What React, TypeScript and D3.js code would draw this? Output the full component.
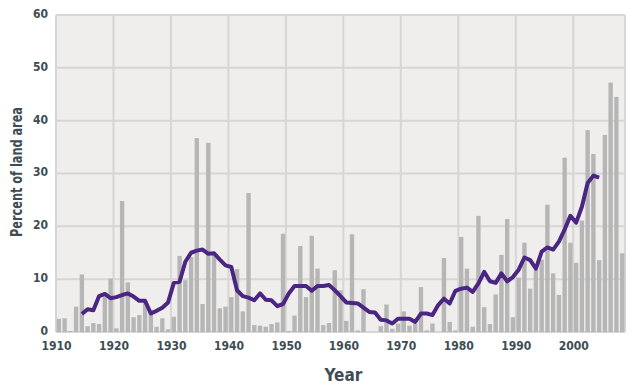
import { useEffect, useRef } from 'react';
import * as d3 from 'd3';

// annual values, 1910 .. 2008
const firstYear = 1910;
const annual = [
  2.5, 2.6, 0.2, 4.8, 10.9, 1.1, 1.7, 1.5, 7.0, 10.1,
  0.7, 24.8, 9.4, 2.8, 3.2, 6.0, 4.2, 1.0, 2.6, 0.5,
  2.9, 14.4, 9.8, 14.2, 36.7, 5.3, 35.8, 14.6, 4.5, 4.8,
  6.6, 11.9, 3.9, 26.3, 1.3, 1.2, 1.0, 1.5, 1.8, 18.6,
  0.2, 3.1, 16.3, 6.6, 18.2, 12.0, 1.3, 1.7, 11.7, 7.9,
  2.1, 18.5, 0.3, 8.1, 0, 0, 1.1, 5.2, 0.6, 1.6,
  3.9, 1.2, 1.5, 8.5, 0.3, 1.6, 0, 14.0, 1.9, 0.3,
  18.0, 12.0, 1.0, 22.0, 4.7, 1.5, 7.1, 14.6, 21.4, 2.8,
  10.3, 16.9, 8.2, 11.8, 13.7, 24.1, 11.1, 7.0, 33.0, 16.9,
  13.1, 21.1, 38.2, 33.7, 13.6, 37.3, 47.2, 44.5, 14.9,
];

// smoothed line, 1914 .. 2004
const avgStart = 1914;
const smoothed = [
  3.4, 4.3, 4.1, 6.8, 7.2, 6.4, 6.6, 7.0, 7.3, 6.7,
  5.9, 5.9, 3.5, 4.0, 4.6, 5.6, 9.3, 9.5, 13.3, 15.0,
  15.4, 15.6, 14.8, 14.9, 13.7, 12.6, 12.3, 7.9, 6.8, 6.5,
  6.0, 7.3, 6.1, 6.0, 4.9, 5.3, 7.3, 8.7, 8.7, 8.7,
  7.8, 8.7, 8.7, 8.9, 7.9, 6.8, 5.6, 5.5, 5.4, 4.6,
  3.8, 3.7, 2.3, 2.2, 1.6, 2.5, 2.5, 2.5, 1.9, 3.5,
  3.5, 3.2, 5.1, 6.3, 5.4, 7.8, 8.2, 8.4, 7.6, 9.2,
  11.4, 9.6, 9.3, 11.1, 9.6, 10.4, 11.8, 14.1, 13.6, 12.0,
  15.2, 16.0, 15.6, 17.1, 19.4, 22.0, 20.7, 23.7, 28.2, 29.6,
  29.2,
];

const xTicks = [1910, 1920, 1930, 1940, 1950, 1960, 1970, 1980, 1990, 2000];
const yTicks = [0, 10, 20, 30, 40, 50, 60];

const font = "'DejaVu Sans Condensed', 'DejaVu Sans', sans-serif";
const textColor = '#3d4d53';

const DroughtChart = () => {
  const ref = useRef<SVGSVGElement | null>(null);

  useEffect(() => {
    if (!ref.current) return;
    const svg = d3.select(ref.current);
    svg.selectAll('*').remove();
    const width = 640;
    const height = 390;
    const margin = { top: 15, right: 15, bottom: 58, left: 56 };

    const x = d3
      .scaleLinear()
      .domain([firstYear, firstYear + annual.length])
      .range([margin.left, width - margin.right]);
    const y = d3
      .scaleLinear()
      .domain([0, 60])
      .range([height - margin.bottom, margin.top]);

    const bw = x(1) - x(0);

    svg
      .append('rect')
      .attr('x', margin.left)
      .attr('y', margin.top)
      .attr('width', width - margin.left - margin.right)
      .attr('height', height - margin.top - margin.bottom)
      .attr('fill', '#efeeec');

    const grid = svg.append('g').attr('stroke', '#d6d6d6').attr('stroke-width', 2);
    grid
      .selectAll('line.v')
      .data(xTicks)
      .join('line')
      .attr('class', 'v')
      .attr('x1', (d) => x(d))
      .attr('x2', (d) => x(d))
      .attr('y1', margin.top)
      .attr('y2', height - margin.bottom);
    grid
      .selectAll('line.h')
      .data(yTicks)
      .join('line')
      .attr('class', 'h')
      .attr('x1', margin.left)
      .attr('x2', width - margin.right)
      .attr('y1', (d) => y(d))
      .attr('y2', (d) => y(d));
    grid
      .append('line')
      .attr('x1', width - margin.right)
      .attr('x2', width - margin.right)
      .attr('y1', margin.top)
      .attr('y2', height - margin.bottom);

    svg
      .append('g')
      .selectAll('rect')
      .data(annual)
      .join('rect')
      .attr('x', (_, i) => x(firstYear + i) + bw * 0.12)
      .attr('width', bw * 0.76)
      .attr('y', (d) => y(d))
      .attr('height', (d) => y(0) - y(d))
      .attr('fill', '#b6b6b6');

    const line = d3
      .line<number>()
      .x((_, i) => x(avgStart + i + 0.5))
      .y((d) => y(d));

    svg
      .append('path')
      .datum(smoothed)
      .attr('fill', 'none')
      .attr('stroke', '#4a2682')
      .attr('stroke-width', 4)
      .attr('stroke-linejoin', 'round')
      .attr('d', line);

    const yAxis = svg
      .append('g')
      .attr('transform', `translate(${margin.left},0)`)
      .call(d3.axisLeft(y).tickValues(yTicks).tickSize(0).tickPadding(8));
    const xAxis = svg
      .append('g')
      .attr('transform', `translate(0,${height - margin.bottom})`)
      .call(d3.axisBottom(x).tickValues(xTicks).tickFormat(d3.format('d')).tickSize(0).tickPadding(9));
    [yAxis, xAxis].forEach((g) => {
      g.select('.domain').remove();
      g.selectAll('text')
        .attr('fill', textColor)
        .style('font-family', font)
        .style('font-stretch', 'condensed')
        .style('font-weight', 'bold')
        .style('font-size', '12px');
    });
    yAxis.selectAll('text').attr('dy', '0.2em');

    svg
      .append('text')
      .attr('x', (margin.left + width - margin.right) / 2 + 3)
      .attr('y', 381)
      .attr('text-anchor', 'middle')
      .attr('fill', textColor)
      .style('font-family', font)
      .style('font-stretch', 'condensed')
      .style('font-weight', 'bold')
      .style('font-size', '17px')
      .text('Year');

    svg
      .append('text')
      .attr('transform', `translate(22,172) rotate(-90)`)
      .attr('text-anchor', 'middle')
      .attr('textLength', 130)
      .attr('lengthAdjust', 'spacingAndGlyphs')
      .attr('fill', textColor)
      .style('font-family', font)
      .style('font-stretch', 'condensed')
      .style('font-weight', 'bold')
      .style('font-size', '15px')
      .text('Percent of land area');
  }, []);

  return <svg ref={ref} width={640} height={390} style={{ display: 'block' }} />;
};

export default function App() {
  return (
    <div style={{ margin: -8 }}>
      <DroughtChart />
    </div>
  );
}
